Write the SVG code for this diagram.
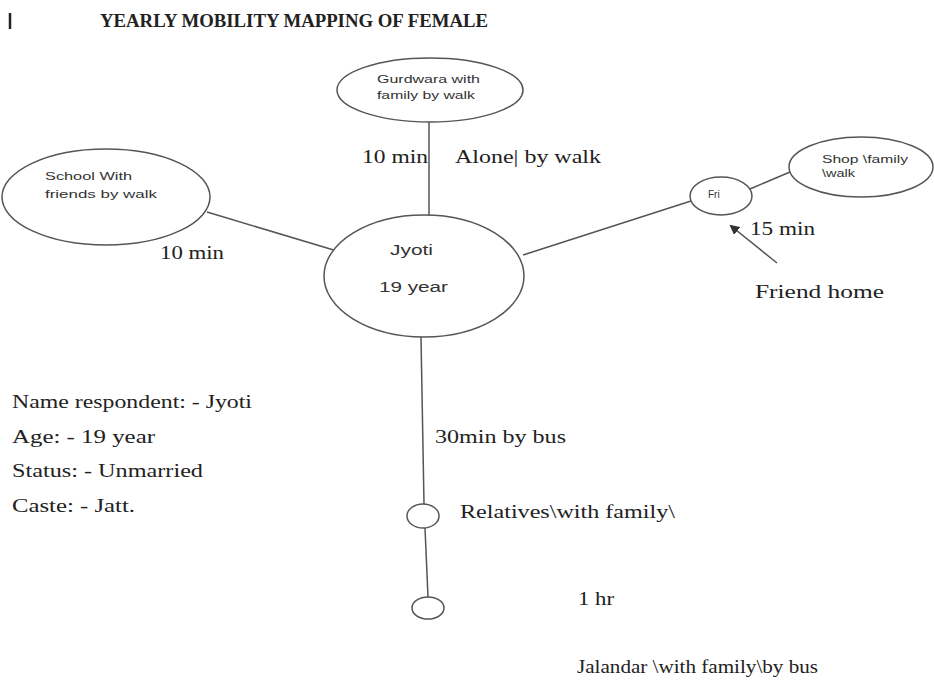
<svg xmlns="http://www.w3.org/2000/svg" width="934" height="687" viewBox="0 0 934 687">
<style>
.n{fill:#fff;stroke:#555;stroke-width:1.5}
.c{stroke:#555;stroke-width:1.5;fill:none}
.s{font-family:"Liberation Serif","Times New Roman",serif;font-size:18px;fill:#222}
.a{font-family:"Liberation Sans",Arial,sans-serif;font-size:10px;fill:#333}
.j{font-family:"Liberation Sans",Arial,sans-serif;font-size:14px;fill:#333}
.t{font-family:"Liberation Serif","Times New Roman",serif;font-size:19px;font-weight:bold;fill:#222}
</style>
<defs>
<marker id="ah" markerWidth="10" markerHeight="10" refX="8" refY="5" orient="auto" markerUnits="userSpaceOnUse">
<path d="M0,0 L10,5 L0,10 z" fill="#333"/>
</marker>
</defs>
<rect width="934" height="687" fill="#fff"/>
<line x1="10" y1="13" x2="10" y2="29" stroke="#222" stroke-width="2.5"/>
<text class="t" x="100" y="27" textLength="388" lengthAdjust="spacingAndGlyphs">YEARLY MOBILITY MAPPING OF FEMALE</text>
<g id="connectors">
<line class="c" x1="429" y1="122" x2="429" y2="215"/>
<line class="c" x1="207" y1="212" x2="337" y2="251"/>
<line class="c" x1="523" y1="255" x2="691" y2="201"/>
<line class="c" x1="750" y1="189" x2="790" y2="172"/>
<line class="c" x1="421" y1="337" x2="424" y2="504"/>
<line class="c" x1="425" y1="528" x2="428" y2="597"/>
<line class="c" x1="777" y1="263" x2="731" y2="226" marker-end="url(#ah)"/>
</g>
<g id="gurdwara">
<ellipse class="n" cx="430" cy="90" rx="93" ry="32"/>
<text class="a" x="377" y="83" textLength="103" lengthAdjust="spacingAndGlyphs">Gurdwara with</text>
<text class="a" x="377" y="99" textLength="98" lengthAdjust="spacingAndGlyphs">family by walk</text>
</g>
<g id="school">
<ellipse class="n" cx="106" cy="197" rx="104" ry="48"/>
<text class="a" x="45" y="180" textLength="87" lengthAdjust="spacingAndGlyphs">School With</text>
<text class="a" x="45" y="198" textLength="112" lengthAdjust="spacingAndGlyphs">friends by walk</text>
</g>
<g id="jyoti">
<ellipse class="n" cx="424" cy="276" rx="100" ry="61"/>
<text class="j" x="390" y="255" textLength="43" lengthAdjust="spacingAndGlyphs">Jyoti</text>
<text class="j" x="379" y="292" textLength="69" lengthAdjust="spacingAndGlyphs">19 year</text>
</g>
<g id="fri">
<ellipse class="n" cx="721" cy="196" rx="31" ry="19"/>
<text class="a" x="708" y="198">Fri</text>
</g>
<g id="shop">
<ellipse class="n" cx="861" cy="167" rx="72" ry="30"/>
<text class="a" x="822" y="163" textLength="86" lengthAdjust="spacingAndGlyphs">Shop \family</text>
<text class="a" x="822" y="177" textLength="33" lengthAdjust="spacingAndGlyphs">\walk</text>
</g>
<g id="relatives">
<ellipse class="n" cx="423" cy="516" rx="16" ry="12"/>
</g>
<g id="jalandar">
<ellipse class="n" cx="428" cy="608" rx="16" ry="11"/>
</g>
<g id="labels">
<text class="s" x="362" y="163" textLength="66" lengthAdjust="spacingAndGlyphs">10 min</text>
<text class="s" x="455" y="163" textLength="146" lengthAdjust="spacingAndGlyphs">Alone| by walk</text>
<text class="s" x="160" y="259" textLength="64" lengthAdjust="spacingAndGlyphs">10 min</text>
<text class="s" x="750" y="235" textLength="65" lengthAdjust="spacingAndGlyphs">15 min</text>
<text class="s" x="755" y="298" textLength="129" lengthAdjust="spacingAndGlyphs">Friend home</text>
<text class="s" x="12" y="408" textLength="240" lengthAdjust="spacingAndGlyphs">Name respondent: - Jyoti</text>
<text class="s" x="12" y="443" textLength="143" lengthAdjust="spacingAndGlyphs">Age: - 19 year</text>
<text class="s" x="12" y="477" textLength="191" lengthAdjust="spacingAndGlyphs">Status: - Unmarried</text>
<text class="s" x="12" y="512" textLength="123" lengthAdjust="spacingAndGlyphs">Caste: - Jatt.</text>
<text class="s" x="435" y="443" textLength="131" lengthAdjust="spacingAndGlyphs">30min by bus</text>
<text class="s" x="460" y="518" textLength="215" lengthAdjust="spacingAndGlyphs">Relatives\with family\</text>
<text class="s" x="578" y="605" textLength="36" lengthAdjust="spacingAndGlyphs">1 hr</text>
<text class="s" x="577" y="673" textLength="241" lengthAdjust="spacingAndGlyphs">Jalandar \with family\by bus</text>
</g>
</svg>
